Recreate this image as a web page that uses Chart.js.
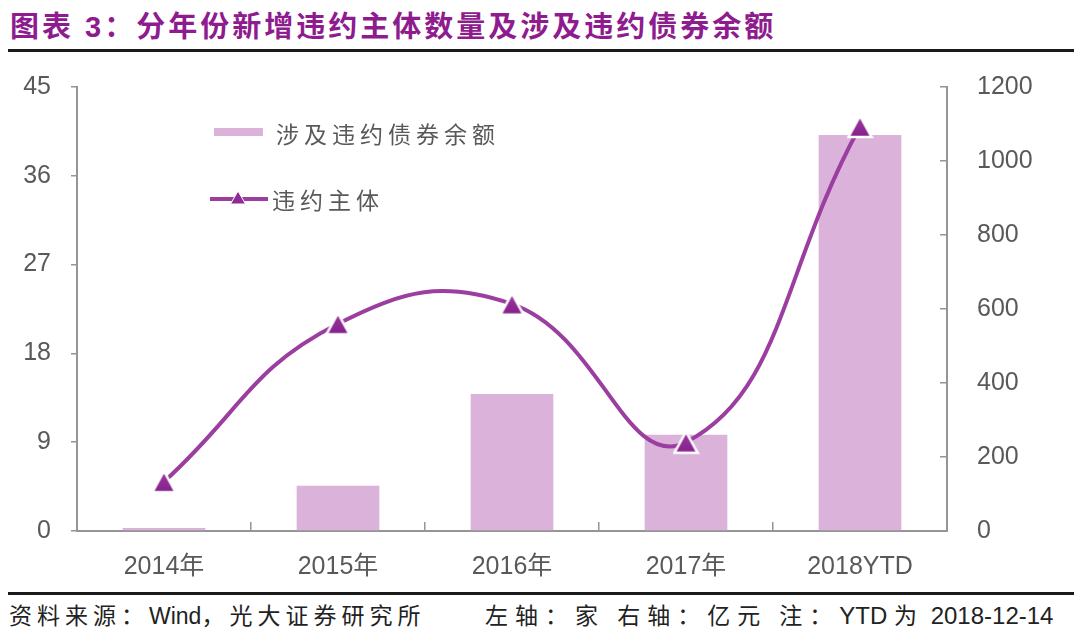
<!DOCTYPE html>
<html>
<head>
<meta charset="utf-8">
<script src="https://cdn.jsdelivr.net/npm/chart.js@4.4.0/dist/chart.umd.min.js"></script>
<style>
  html, body { margin: 0; padding: 0; background: #fff; }
  body { width: 1080px; height: 644px; position: relative; overflow: hidden; font-family: "Liberation Sans", "Noto Sans CJK SC", sans-serif; }
  #title { position: absolute; left: 10px; top: 8px; font-family: "Liberation Sans", "Noto Sans CJK SC", sans-serif; font-weight: bold; font-size: 29px; line-height: 38px; color: #8E1C8E; letter-spacing: 3px; white-space: nowrap; }
  #topline { position: absolute; left: 8px; width: 1066px; top: 49px; height: 3px; background: #1a1a1a; }
  #botline { position: absolute; left: 8px; width: 1066px; top: 592px; height: 3px; background: #1a1a1a; }
  .foot { position: absolute; top: 599px; line-height: 30px; color: #222; white-space: nowrap; }
  .cj { font-family: "Noto Sans CJK SC", sans-serif; font-size: 23px; letter-spacing: 5px; }
  .cj7 { font-family: "Noto Sans CJK SC", sans-serif; font-size: 23px; letter-spacing: 7px; }
  .lt { font-family: "Liberation Sans", sans-serif; font-size: 23px; letter-spacing: 0; }
  .lt24 { font-family: "Liberation Sans", sans-serif; font-size: 24px; letter-spacing: 0; }
  #wrap { position: absolute; left: 0; top: 70px; width: 1080px; height: 520px; }
  .leg { position: absolute; font-family: "Noto Sans CJK SC", sans-serif; font-size: 23px; line-height: 30px; color: #595959; letter-spacing: 5px; white-space: nowrap; }
</style>
</head>
<body>
<div id="title">图表 3：分年份新增违约主体数量及涉及违约债券余额</div>
<div id="topline"></div>
<div id="wrap"><canvas id="c" width="1080" height="520"></canvas></div>

<div style="position:absolute;left:214px;top:128px;width:49px;height:8px;background:#DAB2DA;"></div>
<div class="leg" style="left:276px;top:118px;">涉及违约债券余额</div>
<svg style="position:absolute;left:208px;top:187px;" width="62" height="24">
  <line x1="2" y1="12" x2="60" y2="12" stroke="#9B3E9F" stroke-width="4"/>
  <polygon points="30,4 37.5,17 22.5,17" fill="#8F2B94" stroke="#fff" stroke-width="1"/>
</svg>
<div class="leg" style="left:272px;top:184px;">违约主体</div>

<div id="botline"></div>
<div class="foot" style="left:9px;"><span class="cj">资料来源：</span><span class="lt">Wind</span><span class="cj">，光大证券研究所</span></div>
<div class="foot" style="left:485px;"><span class="cj7">左轴：家 右轴：亿元 注：</span><span class="lt24">YTD </span><span class="cj7">为</span><span class="lt24"> 2018-12-14</span></div>

<script>
const categories = ["2014年", "2015年", "2016年", "2017年", "2018YTD"];
const defaultIssuers = [5, 21, 23, 9, 41];          // 违约主体 (左轴, 家)
const defaultBondBalance = [8, 122, 370, 260, 1070]; // 涉及违约债券余额 (右轴, 亿元)
const leftTicks = [0, 9, 18, 27, 36, 45];
const rightTicks = [0, 200, 400, 600, 800, 1000, 1200];

const tickFont = { family: "'Liberation Sans', 'Noto Sans CJK SC', sans-serif", size: 25 };
const tickColor = '#595959';
const axisColor = '#959595';

// centred triangle marker (like the original's markers)
const tri = document.createElement('canvas');
tri.width = 27; tri.height = 25;
(function () {
  const g = tri.getContext('2d');
  g.beginPath();
  g.moveTo(13.5, 2); g.lineTo(25, 23); g.lineTo(2, 23); g.closePath();
  const grad = g.createLinearGradient(0, 2, 0, 23);
  grad.addColorStop(0, '#9B3AA0');
  grad.addColorStop(1, '#85208A');
  g.fillStyle = grad;
  g.fill();
  g.lineWidth = 2.5;
  g.strokeStyle = '#ffffff';
  g.lineJoin = 'miter';
  g.stroke();
})();

function noPad(s) { s.paddingTop = 0; s.paddingBottom = 0; s.paddingLeft = 0; s.paddingRight = 0; }

new Chart(document.getElementById('c'), {
  type: 'bar',
  data: {
    labels: categories,
    datasets: [
      {
        type: 'line',
        label: '违约主体',
        data: defaultIssuers,
        yAxisID: 'y',
        order: 0,
        borderColor: '#9B3E9F',
        borderWidth: 4,
        tension: 0.45,
        pointStyle: tri,
        pointRadius: 12,
        fill: false,
        clip: false
      },
      {
        type: 'bar',
        label: '涉及违约债券余额',
        data: defaultBondBalance,
        yAxisID: 'y1',
        order: 1,
        backgroundColor: '#DAB2DA',
        borderWidth: 0,
        categoryPercentage: 1.0,
        barPercentage: 0.475
      }
    ]
  },
  options: {
    responsive: false,
    animation: false,
    events: [],
    layout: { autoPadding: false, padding: { top: 17, bottom: 0, left: 0, right: 0 } },
    plugins: { legend: { display: false }, tooltip: { enabled: false }, title: { display: false } },
    scales: {
      x: {
        offset: true,
        grid: { display: true, drawOnChartArea: false, drawTicks: true, tickLength: -9, color: axisColor, lineWidth: 1.5, offset: true },
        border: { display: true, color: axisColor, width: 2 },
        ticks: { color: tickColor, font: tickFont, padding: 30, maxRotation: 0, autoSkip: false },
        afterFit: (s) => { s.height = 59; noPad(s); }
      },
      y: {
        position: 'left',
        min: 0, max: 45,
        afterBuildTicks: (s) => { s.ticks = leftTicks.map(v => ({ value: v })); },
        grid: { display: true, drawOnChartArea: false, drawTicks: true, tickLength: 6, color: axisColor, lineWidth: 1.5 },
        border: { display: true, color: axisColor, width: 2 },
        ticks: { color: tickColor, font: tickFont, padding: 20, callback: (v) => String(v) },
        afterFit: (s) => { s.width = 77; noPad(s); }
      },
      y1: {
        position: 'right',
        min: 0, max: 1200,
        afterBuildTicks: (s) => { s.ticks = rightTicks.map(v => ({ value: v })); },
        grid: { display: true, drawOnChartArea: false, drawTicks: true, tickLength: -7, color: axisColor, lineWidth: 1.5 },
        border: { display: true, color: axisColor, width: 2 },
        ticks: { color: tickColor, font: tickFont, padding: 37, callback: (v) => String(v) },
        afterFit: (s) => { s.width = 133; noPad(s); }
      }
    }
  }
});
</script>
</body>
</html>
